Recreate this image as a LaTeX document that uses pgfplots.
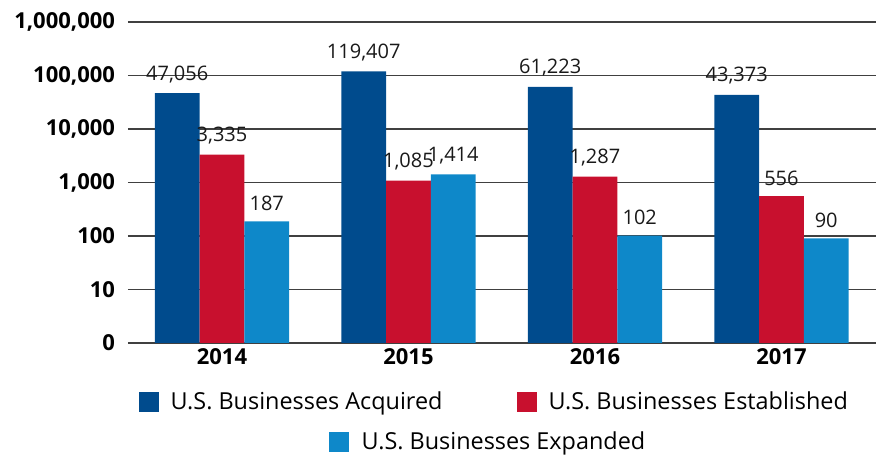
\documentclass[border=0pt]{standalone}
\usepackage{fontspec}
\setmainfont{Open Sans}
\usepackage{pgfplots}
\pgfplotsset{compat=1.18}
\usetikzlibrary{calc}
\definecolor{acq}{RGB}{0,75,141}
\definecolor{est}{RGB}{200,16,46}
\definecolor{exp}{RGB}{14,136,201}
\pgfplotsset{
  sq/.style={legend image code/.code={\fill[##1,draw=none] (0pt,-5pt) rectangle (10pt,5pt); \path (14pt,0pt);}}
}
\begin{document}
\begin{tikzpicture}
\begin{axis}[
  name=main,
  scale only axis, width=374pt, height=160.5pt,
  ybar, bar width=0.24,
  ymode=log, log basis y=10, ymin=1, ymax=1000000,
  xmin=-0.504, xmax=3.507,
  xtick={0,1,2,3}, xticklabels={2014,2015,2016,2017},
  ytick={1,10,100,1000,10000,100000,1000000},
  yticklabels={0,10,100,{1,000},{10,000},{100,000},{1,000,000}},
  tick label style={font=\fontsize{11}{13}\selectfont\bfseries},
  yticklabel style={xshift=-3pt},
  xticklabel style={yshift=1pt},
  major tick length=0pt, minor tick num=0,
  axis line style={draw=none},
  ymajorgrids, grid style={black!75, line width=0.7pt},
  nodes near coords, point meta=explicit symbolic,
  every node near coord/.append style={font=\fontsize{10}{12}\selectfont, anchor=south, inner sep=2pt, yshift=3pt, text=black!90},
  legend style={at={(0.491,-0.184)}, anchor=center, draw=none, fill=none,
    legend columns=2, font=\fontsize{11.7}{13}\selectfont,
    /tikz/every even column/.append style={column sep=35pt}},
  legend cell align=left,
]
\addplot[fill=acq, draw=none, bar shift=-0.24, sq] coordinates {
  (0,47056) [47{,}056] (1,119407) [119{,}407] (2,61223) [61{,}223] (3,43373) [43{,}373]};
\addlegendentry{U.S. Businesses Acquired}
\addplot[fill=est, draw=none, bar shift=0, sq] coordinates {
  (0,3335) [3{,}335] (1,1085) [1{,}085] (2,1287) [1{,}287] (3,556) [556]};
\addlegendentry{U.S. Businesses Established}
\addplot[fill=exp, draw=none, bar shift=0.24, sq, forget plot] coordinates {
  (0,187) [187] (1,1414) [1{,}414] (2,102) [102] (3,90) [90]};
\end{axis}
\begin{axis}[
  scale only axis, width=374pt, height=160.5pt, hide axis,
  xmin=0, xmax=1, ymin=0, ymax=1,
  legend style={at={(0.483,-0.31)}, anchor=center, draw=none, fill=none,
    font=\fontsize{11.7}{13}\selectfont},
]
\addlegendimage{legend image code/.code={\fill[exp,draw=none] (0pt,-5pt) rectangle (10pt,5pt); \path (14pt,0pt);}}
\addlegendentry{U.S. Businesses Expanded}
\end{axis}
\pgfresetboundingbox
\useasboundingbox ($(main.south west)+(-64pt,-56pt)$) rectangle ($(main.north east)+(0pt,11pt)$);
\end{tikzpicture}
\end{document}
